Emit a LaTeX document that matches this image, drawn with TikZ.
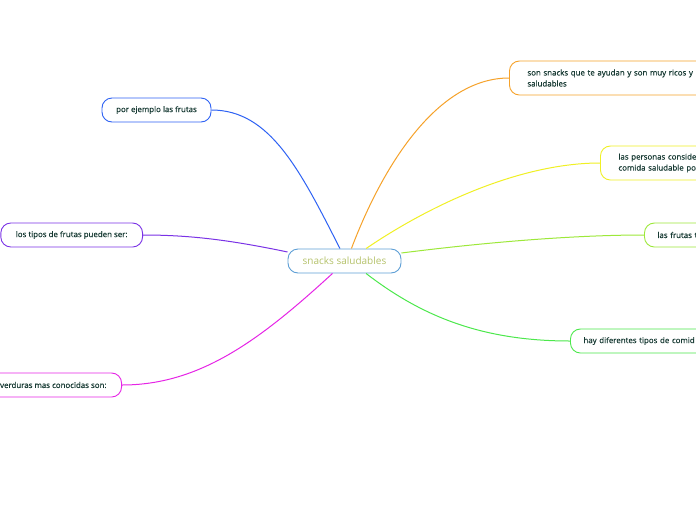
\documentclass[tikz,border=0pt]{standalone}
\usepackage{fontspec}
\setmainfont{Open Sans}
\newfontfamily\semib{Open Sans}[FakeBold=0.5]
\definecolor{txt}{HTML}{173A33}
\definecolor{ctxt}{HTML}{B5C26A}
\definecolor{cbord}{HTML}{5E9FD6}
\definecolor{corange}{HTML}{F6A22A}
\definecolor{cyellow}{HTML}{F0F024}
\definecolor{clgreen}{HTML}{9DE83A}
\definecolor{cgreen}{HTML}{4CE84C}
\definecolor{cblue}{HTML}{2E62F4}
\definecolor{cpurple}{HTML}{7A32E6}
\definecolor{cmag}{HTML}{E625E6}
\begin{document}
\begin{tikzpicture}[x=1pt,y=-1pt,
  sub/.style={draw, rounded corners=10pt, fill=white, line width=0.9pt,
    font=\semib\fontsize{7.9}{11}\selectfont, text=txt, align=left,
    inner xsep=13pt, inner ysep=4pt, minimum height=24pt},
  link/.style={line width=1pt}]
\useasboundingbox (0,0) rectangle (696,520);
\clip (0,0) rectangle (696,520);
\fill[white] (0,0) rectangle (696,520);

\node[draw=cbord, fill=white, rounded corners=10pt, line width=0.9pt,
  minimum width=113pt, minimum height=24pt, text=ctxt,
  font=\fontsize{10}{12}\selectfont] (c) at (344.5,261) {snacks saludables};

\node[sub, draw=corange, anchor=west, text width=200pt, inner xsep=18pt, minimum height=34pt] (n1) at (509,78)
  {son snacks que te ayudan y son muy ricos y\\saludables};
\node[sub, draw=cyellow, anchor=west, text width=150pt, inner xsep=18pt, minimum height=34pt] (n2) at (600,163)
  {las personas conside\\comida saludable po};
\node[sub, draw=clgreen, anchor=west, text width=100pt] (n3) at (644,235) {las frutas t};
\node[sub, draw=cgreen, anchor=west, text width=150pt] (n4) at (570,341) {hay diferentes tipos de comid};
\node[sub, draw=cblue, minimum width=109pt] (n5) at (156.5,110) {por ejemplo las frutas};
\node[sub, draw=cpurple, anchor=east, inner xsep=15pt] (n6) at (143,235) {los tipos de frutas pueden ser:};
\node[sub, draw=cmag, anchor=east, inner xsep=15pt] (n7) at (122,385) {verduras mas conocidas son:};

\draw[link, corange] (c.61) .. controls (385,160) and (440,78) .. (n1.west);
\draw[link, cyellow] (c.30) .. controls (430,205) and (520,163) .. (n2.west);
\draw[link, clgreen] (c.8) .. controls (480,243) and (570,235) .. (n3.west);
\draw[link, cgreen] (c.-30) .. controls (420,315) and (480,341) .. (n4.west);
\draw[link, cblue] (c.110) .. controls (300,170) and (270,110) .. (n5.east);
\draw[link, cpurple] (c.171) .. controls (230,240) and (190,235) .. (n6.east);
\draw[link, cmag] (c.-134) .. controls (260,340) and (200,385) .. (n7.east);
\end{tikzpicture}
\end{document}
